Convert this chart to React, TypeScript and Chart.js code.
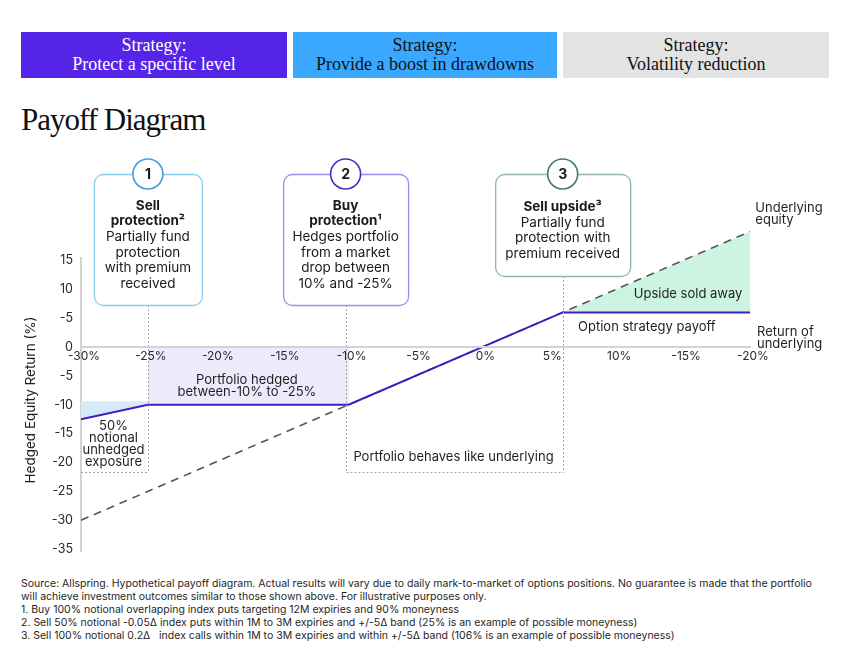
import React, { useEffect, useRef } from "react";
import { Chart, registerables } from "chart.js";

Chart.register(...registerables);

// ---------- data ----------
const xTickValues = [-30, -25, -20, -15, -10, -5, 0, 5, 10, 15, 20];
const xTickLabels = ["-30%", "-25%", "-20%", "-15%", "-10%", "-5%", "0%", "5%", "10%", "-15%", "-20%"];
const yTickValues = [15, 10, 5, 0, -5, -10, -15, -20, -25, -30, -35];
const yTickLabels = ["15", "10", "-5", "0", "-5", "-10", "-15", "-20", "-25", "-30", "-35"];

const underlyingX = [-30, 20];
const underlyingY = [-30, 20];

const payoffX = [-30, -25, -10, 6, 20];
const payoffY = [-12.5, -10, -10, 6, 6];

const unhedgedFillX = [-30, -25, -25, -30];
const unhedgedFillY = [-9.4, -9.4, -10, -12.5];

const hedgedBandX = [-25, -10, -10, -25];
const hedgedBandY = [0, 0, -10, -10];

const upsideFillX = [6, 20, 20];
const upsideFillY = [6, 20, 6];

const strikeLevels = [-25, -10, 6];
const guideFloor = -21.6;

const headerTitles = [
  ["Strategy:", "Protect a specific level"],
  ["Strategy:", "Provide a boost in drawdowns"],
  ["Strategy:", "Volatility reduction"],
];

const calloutNumbers = ["1", "2", "3"];
const calloutLines: [string, boolean][][] = [
  [["Sell", true], ["protection\u00B2", true], ["Partially fund", false], ["protection", false], ["with premium", false], ["received", false]],
  [["Buy", true], ["protection\u00B9", true], ["Hedges portfolio", false], ["from a market", false], ["drop between", false], ["10% and -25%", false]],
  [["Sell upside\u00B3", true], ["Partially fund", false], ["protection with", false], ["premium received", false]],
];

const footnotes = [
  "Source: Allspring. Hypothetical payoff diagram. Actual results will vary due to daily mark-to-market of options positions. No guarantee is made that the portfolio",
  "will achieve investment outcomes similar to those shown above. For illustrative purposes only.",
  "1. Buy 100% notional overlapping index puts targeting 12M expiries and 90% moneyness",
  "2. Sell 50% notional -0.05\u0394 index puts within 1M to 3M expiries and +/-5\u0394 band (25% is an example of possible moneyness)",
  "3. Sell 100% notional 0.2\u0394   index calls within 1M to 3M expiries and within +/-5\u0394 band (106% is an example of possible moneyness)",
];

// annotation labels: [text, x, y, align]
const chartLabels: [string, number, number, CanvasTextAlign][] = [
  ["Underlying", 20.4, 24.05, "left"],
  ["equity", 20.4, 21.9, "left"],
  ["Upside sold away", 15.37, 9.17, "center"],
  ["Option strategy payoff", 7.15, 3.46, "left"],
  ["Return of", 20.52, 2.6, "left"],
  ["underlying", 20.52, 0.43, "left"],
  ["Portfolio hedged", -17.6, -5.71, "center"],
  ["between-10% to -25%", -17.6, -7.87, "center"],
  ["50%", -27.57, -13.67, "center"],
  ["notional", -27.57, -15.74, "center"],
  ["unhedged", -27.57, -17.82, "center"],
  ["exposure", -27.57, -19.98, "center"],
  ["Portfolio behaves like underlying", -2.16, -19.1, "center"],
];

// ---------- styles ----------
const SANS = "Inter, 'Noto Sans', Roboto, sans-serif";
const SERIF = "'Liberation Serif', 'DejaVu Serif', serif";
const headerStyles = [
  { left: 21, width: 266, bg: "#5624e6", color: "#ffffff" },
  { left: 293, width: 264, bg: "#3aa8ff", color: "#111111" },
  { left: 563, width: 266, bg: "#e3e3e3", color: "#111111" },
];
const calloutStyles = [
  { width: 108, bottom: 155, border: "#8ccaee", ring: "#3f9fe0", shift: 0 },
  { width: 125, bottom: 155, border: "#9d8be6", ring: "#4a2dc4", shift: -3 },
  { width: 135, bottom: 126, border: "#93b6aa", ring: "#3f7d6b", shift: 0 },
];
const CALLOUT_TOP = 24;
const CALLOUT_FIRST_LINE = [55.7, 55.7, 57];
const CALLOUT_LINE_H = 15.6;

const pts = (xs: number[], ys: number[]) => xs.map((x, i) => ({ x, y: ys[i] }));

const annotationPlugin = {
  id: "payoffAnnotations",
  beforeDatasetsDraw(chart: any) {
    const { ctx, scales } = chart;
    const x = scales.x, y = scales.y;
    ctx.save();
    ctx.strokeStyle = "#d3d3d3";
    ctx.lineWidth = 2;
    ctx.beginPath();
    const ax = x.getPixelForValue(-30);
    ctx.moveTo(ax, y.getPixelForValue(15.6));
    ctx.lineTo(ax, y.getPixelForValue(-35.5));
    ctx.stroke();
    ctx.restore();
  },
  afterDatasetsDraw(chart: any) {
    const { ctx, scales } = chart;
    const x = scales.x, y = scales.y;
    ctx.save();
    // dotted guides
    ctx.setLineDash([2, 2]);
    ctx.strokeStyle = "#a5a5a5";
    ctx.lineWidth = 1;
    const floorPx = Math.round(y.getPixelForValue(guideFloor)) + 0.5;
    const guideX = strikeLevels.map((lvl, i) => Math.round(x.getPixelForValue(lvl) + calloutStyles[i].shift) + 0.5);
    guideX.forEach((px, i) => {
      ctx.beginPath();
      ctx.moveTo(px, calloutStyles[i].bottom);
      ctx.lineTo(px, floorPx);
      ctx.stroke();
    });
    ctx.beginPath();
    ctx.moveTo(x.getPixelForValue(-30), floorPx);
    ctx.lineTo(guideX[0], floorPx);
    ctx.moveTo(guideX[1], floorPx);
    ctx.lineTo(guideX[2], floorPx);
    ctx.stroke();
    ctx.setLineDash([]);

    // labels
    ctx.fillStyle = "#1f1f1f";
    ctx.font = `13px ${SANS}`;
    ctx.textBaseline = "middle";
    chartLabels.forEach(([t, lx, ly, align]) => {
      ctx.textAlign = align;
      ctx.fillText(t, x.getPixelForValue(lx), y.getPixelForValue(ly));
    });

    // y title
    ctx.save();
    ctx.translate(31, 400 - 150);
    ctx.rotate(-Math.PI / 2);
    ctx.textAlign = "center";
    ctx.font = `13.5px ${SANS}`;
    ctx.fillStyle = "#1f1f1f";
    ctx.fillText("Hedged Equity Return (%)", 0, 0);
    ctx.restore();
    ctx.restore();
  },
  afterDraw(chart: any) {
    const { ctx, scales } = chart;
    const x = scales.x;
    ctx.save();
    strikeLevels.forEach((lvl, i) => {
      const st = calloutStyles[i];
      const cx = x.getPixelForValue(lvl) + st.shift;
      const left = cx - st.width / 2;
      ctx.beginPath();
      ctx.roundRect(left + 0.5, CALLOUT_TOP + 0.5, st.width, st.bottom - CALLOUT_TOP, 9);
      ctx.fillStyle = "#ffffff";
      ctx.fill();
      ctx.strokeStyle = st.border;
      ctx.lineWidth = 1.3;
      ctx.stroke();
      // ring
      ctx.beginPath();
      ctx.arc(cx, CALLOUT_TOP, 15, 0, Math.PI * 2);
      ctx.fillStyle = "#ffffff";
      ctx.fill();
      ctx.strokeStyle = st.ring;
      ctx.lineWidth = 1.6;
      ctx.stroke();
      ctx.fillStyle = "#1a1a1a";
      ctx.textAlign = "center";
      ctx.textBaseline = "middle";
      ctx.font = `bold 14px ${SANS}`;
      ctx.fillText(calloutNumbers[i], cx, CALLOUT_TOP + 1);
      calloutLines[i].forEach(([t, bold], j) => {
        ctx.font = `${bold ? "bold " : ""}13.5px ${SANS}`;
        ctx.fillText(t, cx, CALLOUT_FIRST_LINE[i] + j * CALLOUT_LINE_H);
      });
    });
    ctx.restore();
  },
};

export default function App() {
  const ref = useRef<HTMLCanvasElement>(null);
  useEffect(() => {
    const canvas = ref.current;
    if (!canvas) return;
    const chart = new Chart(canvas, {
      type: "line",
      data: {
        datasets: [
          {
            data: pts(payoffX, payoffY),
            borderColor: "#3b1fc2",
            borderWidth: 2,
            pointRadius: 0,
            fill: false,
            tension: 0,
          },
          {
            data: pts(underlyingX, underlyingY),
            borderColor: "#555555",
            borderWidth: 1.6,
            borderDash: [8, 6],
            pointRadius: 0,
            fill: false,
          },
          {
            data: pts(upsideFillX, upsideFillY),
            borderColor: "rgba(0,0,0,0)",
            backgroundColor: "#cdf4e3",
            pointRadius: 0,
            fill: "shape",
          },
          {
            data: pts(hedgedBandX, hedgedBandY),
            borderColor: "rgba(0,0,0,0)",
            backgroundColor: "#ecebfb",
            pointRadius: 0,
            fill: "shape",
          },
          {
            data: pts(unhedgedFillX, unhedgedFillY),
            borderColor: "rgba(0,0,0,0)",
            backgroundColor: "#d5ebf9",
            pointRadius: 0,
            fill: "shape",
          },
        ],
      },
      options: {
        animation: false,
        responsive: false,
        events: [],
        layout: { padding: { left: 0, right: 100, top: 70, bottom: 18 } },
        plugins: { legend: { display: false }, tooltip: { enabled: false } },
        scales: {
          x: {
            type: "linear",
            min: -30,
            max: 20,
            position: { y: 0 },
            grid: { display: false, drawTicks: false },
            border: { display: true, color: "#d3d3d3", width: 2, z: 1 },
            afterBuildTicks: (scale: any) => {
              scale.ticks = xTickValues.map((v) => ({ value: v }));
            },
            afterFit: (scale: any) => {
              scale.height = 0;
            },
            ticks: {
              z: 2,
              padding: 2,
              labelOffset: 3,
              maxRotation: 0,
              autoSkip: false,
              color: "#2a2a2a",
              font: { family: SANS, size: 12 },
              callback: (v: any) => xTickLabels[xTickValues.indexOf(Number(v))] ?? "",
            },
          },
          y: {
            type: "linear",
            min: -35.5,
            max: 22,
            position: "left",
            grid: { display: false, drawTicks: false },
            border: { display: false },
            afterBuildTicks: (scale: any) => {
              scale.ticks = yTickValues.map((v) => ({ value: v }));
            },
            afterFit: (scale: any) => {
              scale.width = 81;
            },
            ticks: {
              padding: 8,
              autoSkip: false,
              color: "#2a2a2a",
              font: { family: SANS, size: 12.5 },
              callback: (v: any) => yTickLabels[yTickValues.indexOf(Number(v))] ?? "",
            },
          },
        },
      },
      plugins: [annotationPlugin],
    } as any);
    return () => chart.destroy();
  }, []);

  return (
    <div
      style={{
        position: "absolute",
        left: 0,
        top: 0,
        width: 850,
        height: 669,
        background: "#ffffff",
        overflow: "hidden",
        fontFamily: SANS,
      }}
    >
      {headerTitles.map((lines, i) => (
        <div
          key={i}
          style={{
            position: "absolute",
            left: headerStyles[i].left,
            top: 32,
            width: headerStyles[i].width,
            height: 46,
            background: headerStyles[i].bg,
            color: headerStyles[i].color,
            fontFamily: SERIF,
            fontSize: 18,
            lineHeight: "19px",
            textAlign: "center",
            display: "flex",
            flexDirection: "column",
            justifyContent: "center",
          }}
        >
          {lines.map((l, j) => (
            <div key={j}>{l}</div>
          ))}
        </div>
      ))}
      <div
        style={{
          position: "absolute",
          left: 21,
          top: 102,
          fontFamily: SERIF,
          fontSize: 31,
          lineHeight: "36px",
          letterSpacing: "-1px",
          color: "#111111",
        }}
      >
        Payoff Diagram
      </div>
      <canvas
        ref={ref}
        width={850}
        height={420}
        style={{ position: "absolute", left: 0, top: 150, width: 850, height: 420 }}
      />
      <div
        style={{
          position: "absolute",
          left: 21,
          top: 577,
          fontFamily: SANS,
          fontSize: 10.5,
          lineHeight: "13px",
          color: "#1f1f1f",
          whiteSpace: "pre",
        }}
      >
        {footnotes.map((f, i) => (
          <div key={i}>{f}</div>
        ))}
      </div>
    </div>
  );
}
